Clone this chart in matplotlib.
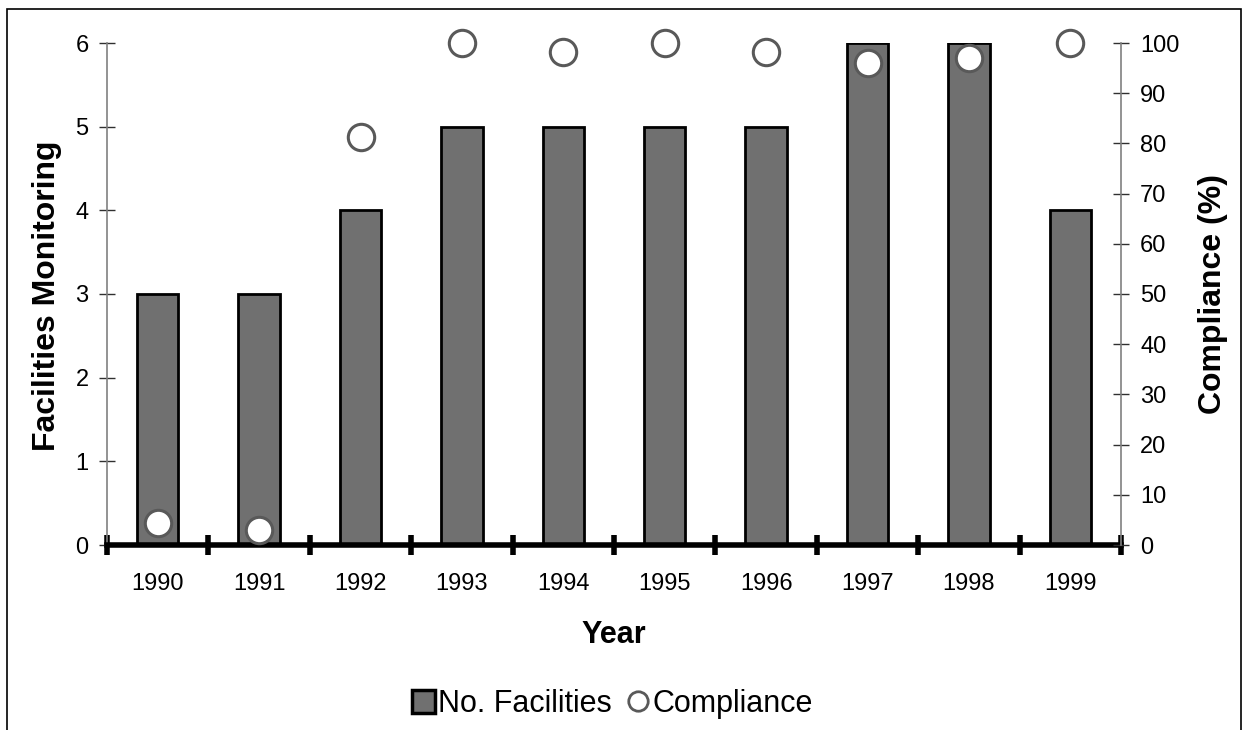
import matplotlib
matplotlib.use("Agg")
import matplotlib.pyplot as plt
import numpy as np
from matplotlib.patches import Rectangle
from matplotlib.lines import Line2D

plt.rcParams['font.family'] = ['Liberation Sans', 'DejaVu Sans']

# data
years = ['1990', '1991', '1992', '1993', '1994', '1995', '1996', '1997', '1998', '1999']
facilities = [3, 3, 4, 5, 5, 5, 5, 6, 6, 4]
compliance = [4.4, 3.0, 81.3, 100, 98.3, 100, 98.3, 96, 97, 100]

x = np.arange(len(years))
bar_color = '#707070'
edge_grey = '#595959'

fig = plt.figure(figsize=(12.44, 7.3), dpi=100)
ax = fig.add_axes([107 / 1244, 1 - 545 / 730, 1014 / 1244, 502 / 730])

# bars
ax.bar(x, facilities, width=0.41, color=bar_color, edgecolor='black', linewidth=2, zorder=2)
ax.set_xlim(-0.5, len(years) - 0.5)
ax.set_ylim(0, 6)
ax.set_yticks(range(0, 7))
ax.set_xticks(x)
ax.set_xticklabels(years)
ax.set_xticks(np.arange(-0.5, len(years)), minor=True)
ax.tick_params(axis='x', which='major', length=0, labelsize=17, pad=20)
ax.tick_params(axis='x', which='minor', direction='inout', length=14, width=4, color='black')
ax.tick_params(axis='y', direction='inout', length=11.5, width=1, color='#303030', labelsize=17, pad=7.5)

for s in ['top', 'right']:
    ax.spines[s].set_visible(False)
ax.spines['left'].set_color('#808080')
ax.spines['left'].set_linewidth(1.2)
ax.spines['bottom'].set_linewidth(4)
ax.spines['bottom'].set_zorder(3)

ax.set_xlabel('Year', fontsize=22, fontweight='bold')
ax.xaxis.set_label_coords(0.5, -0.149)
ax.set_ylabel('Facilities Monitoring', fontsize=23, fontweight='bold')
ax.yaxis.set_label_coords(-0.044, 0.496)

# compliance on right axis
ax2 = ax.twinx()
ax2.plot(x, compliance, 'o', markersize=19, markerfacecolor='white',
         markeredgecolor=edge_grey, markeredgewidth=2.2, clip_on=False, zorder=4)
ax2.set_ylim(0, 100)
ax2.set_yticks(range(0, 101, 10))
ax2.tick_params(axis='y', direction='inout', length=11.5, width=1, color='#303030', labelsize=17, pad=8)
for s in ['top', 'left', 'bottom']:
    ax2.spines[s].set_visible(False)
ax2.spines['right'].set_color('#808080')
ax2.spines['right'].set_linewidth(1.2)
ax2.set_ylabel('Compliance (%)', fontsize=23, fontweight='bold')
ax2.yaxis.set_label_coords(1.076, 0.5)

# legend
handles = [Rectangle((0, 0), 1, 1, facecolor=bar_color, edgecolor='black', linewidth=2.5),
           Line2D([], [], marker='o', linestyle='none', markersize=14,
                  markerfacecolor='white', markeredgecolor=edge_grey, markeredgewidth=2)]
fig.legend(handles, ['No. Facilities', 'Compliance'], loc='center', bbox_to_anchor=(0.4924, 0.0356),
           ncol=2, frameon=False, fontsize=22, handlelength=0.75, handleheight=0.75,
           handletextpad=0.1, columnspacing=0.5, borderpad=0)

# outer frame
fig.patches.append(Rectangle((7 / 1244, -0.1), 1234 / 1244, 1.1 - 9 / 730, transform=fig.transFigure,
                             fill=False, edgecolor='black', linewidth=1.2))

fig.savefig('out.png', dpi=100)
